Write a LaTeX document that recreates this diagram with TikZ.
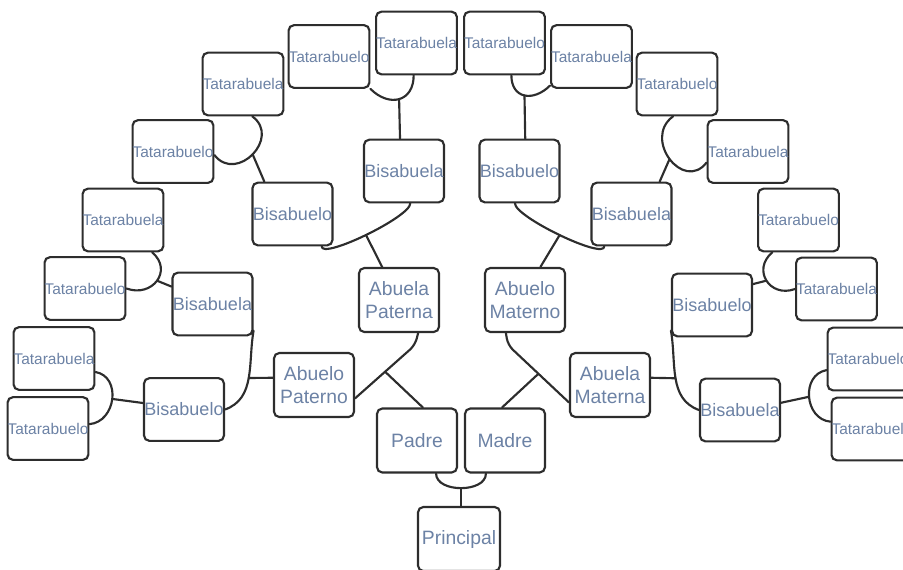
\documentclass[tikz,border=0pt]{standalone}
\usepackage{fontspec}
\setmainfont{Liberation Sans}
\definecolor{nametext}{RGB}{108,130,165}
\definecolor{inkline}{RGB}{45,45,45}
\begin{document}
\begin{tikzpicture}[x=0.75pt, y=0.75pt, person node/.style={rectangle,rounded corners=4pt,draw=inkline,line width=1.6pt,fill=white,minimum width=60pt,minimum height=47pt,inner sep=0pt,text=nametext,align=center}, link/.style={draw=inkline,line width=1.6pt,line cap=round,line join=round}]
\useasboundingbox (0,0) rectangle (903,-569);
\clip (0,0) rectangle (903,-569);
\begin{scope}[every node/.style={person node,font=\fontsize{11.6}{12}\selectfont}]
\node (t1) at (48,-428.5) {Tatarabuelo};
\node (t2) at (54,-358.5) {Tatarabuela};
\node (t3) at (85,-288.5) {Tatarabuelo};
\node (t4) at (123,-220) {Tatarabuela};
\node (t5) at (173,-151.5) {Tatarabuelo};
\node (t6) at (243,-84) {Tatarabuela};
\node (t7) at (329,-56.5) {Tatarabuelo};
\node (t8) at (416.5,-43) {Tatarabuela};
\node (t9) at (504.5,-43) {Tatarabuelo};
\node (t10) at (591.5,-56.5) {Tatarabuela};
\node (t11) at (677,-84) {Tatarabuelo};
\node (t12) at (748,-151.5) {Tatarabuela};
\node (t13) at (798.5,-220) {Tatarabuelo};
\node (t14) at (836.5,-289) {Tatarabuela};
\node (t15) at (868,-359) {Tatarabuelo};
\node (t16) at (872,-429) {Tatarabuela};
\end{scope}
\begin{scope}[every node/.style={person node,font=\fontsize{13.5}{14}\selectfont}]
\node (b1) at (184,-409.5) {Bisabuelo};
\node (b2) at (212.5,-304) {Bisabuela};
\node (b3) at (292.5,-214) {Bisabuelo};
\node (b4) at (404,-171) {Bisabuela};
\node (b5) at (519.5,-171) {Bisabuelo};
\node (b6) at (631.5,-214) {Bisabuela};
\node (b7) at (712,-305) {Bisabuelo};
\node (b8) at (740,-410) {Bisabuela};
\end{scope}
\begin{scope}[every node/.style={person node,minimum height=48pt,font=\fontsize{14.5}{17}\selectfont}]
\node (a1) at (314,-385) {Abuelo\\Paterno};
\node (a2) at (399,-300) {Abuela\\Paterna};
\node (a3) at (525,-300) {Abuelo\\Materno};
\node (a4) at (610,-385) {Abuela\\Materna};
\node (padre) at (417,-440.5) {Padre};
\node (madre) at (505,-440.5) {Madre};
\node[minimum width=61.5pt] (principal) at (459,-539) {Principal};
\end{scope}
% tatarabuelos
\draw[link] (t2.-18) to[out=-10,in=5,looseness=1.3] coordinate[pos=.5] (j1) (t1.6);
\draw[link] (j1) -- (b1.171);
\draw[link] (t4.-48) to[out=-40,in=-20,looseness=1.6] coordinate[pos=.5] (j2) (t3.east);
\draw[link] (j2) -- (b2.157);
\draw[link] (t6.-74) to[out=-36,in=-52,looseness=1.7] coordinate[pos=.5] (j3) (t5.-5);
\draw[link] (j3) -- (b3.131);
\draw[link] (t7.-38) to[out=-45,in=-90,looseness=1.5] coordinate[pos=.5] (j4) (t8.-95);
\draw[link] (j4) -- (b4.97);
\draw[link] (t9.-78) to[out=-90,in=-135,looseness=1.5] coordinate[pos=.5] (j5) (t10.-145);
\draw[link] (j5) -- (b5.80);
\draw[link] (t11.-97) to[out=-144,in=-128,looseness=1.7] coordinate[pos=.5] (j6) (t12.-165);
\draw[link] (j6) -- (b6.49);
\draw[link] (t13.-129) to[out=-140,in=-160,looseness=1.6] coordinate[pos=.5] (j7) (t14.180);
\draw[link] (j7) -- (b7.27);
\draw[link] (t15.-165) to[out=-170,in=175,looseness=1.3] coordinate[pos=.5] (j8) (t16.170);
\draw[link] (j8) -- (b8.10);
% bisabuelos
\draw[link] (b2.-33) to[out=-100,in=20] coordinate[pos=.5] (k1) (b1.east);
\draw[link] (k1) -- (a1.170);
\draw[link] (b3.-48) to[out=-90,in=-90,looseness=.35] coordinate[pos=.5] (k2) (b4.-79);
\draw[link] (k2) -- (a2.117);
\draw[link] (b5.-98) to[out=-90,in=-90,looseness=.35] coordinate[pos=.5] (k3) (b6.-130);
\draw[link] (k3) -- (a3.65);
\draw[link] (b7.-148) to[out=-80,in=160] coordinate[pos=.5] (k4) (b8.west);
\draw[link] (k4) -- (a4.10);
% abuelos y padres
\draw[link,rounded corners=5pt] (a2.-60) -- ++(-3,-12) -- coordinate[pos=.5] (m1) (a1.-18);
\draw[link] (m1) -- (padre.80);
\draw[link,rounded corners=5pt] (a3.-120) -- ++(2,-12) -- coordinate[pos=.5] (m2) (a4.-157);
\draw[link] (m2) -- (madre.95);
\draw[link] (padre.-60) to[out=-90,in=-90] coordinate[pos=.5] (m3) (madre.-120);
\draw[link] (m3) -- (m3 |- principal.north);
\end{tikzpicture}
\end{document}
